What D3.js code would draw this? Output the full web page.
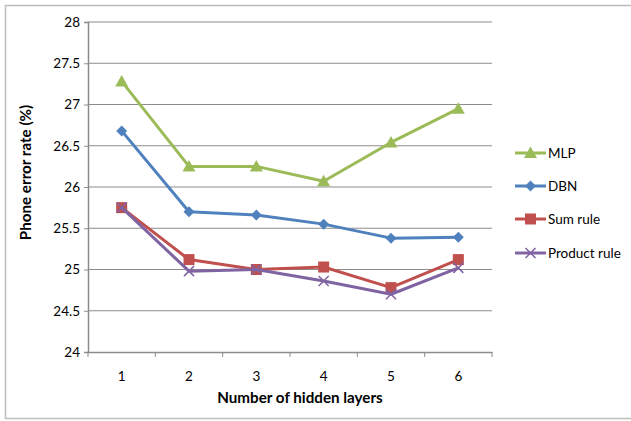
<!DOCTYPE html>
<html><head><meta charset="utf-8">
<script src="https://cdn.jsdelivr.net/npm/d3@7"></script>
<style>body{margin:0;background:#fff;}svg{display:block;font-family:Lato,"Open Sans",sans-serif;}</style>
</head><body>
<svg id="c" width="631" height="421"></svg>
<script>
const categories = ["1","2","3","4","5","6"];
const yTicks = [24, 24.5, 25, 25.5, 26, 26.5, 27, 27.5, 28];
const seriesNames = ["MLP","DBN","Sum rule","Product rule"];
const mlp = [27.28, 26.25, 26.25, 26.07, 26.54, 26.95];
const dbn = [26.68, 25.70, 25.66, 25.55, 25.38, 25.39];
const sumRule = [25.75, 25.12, 25.00, 25.03, 24.78, 25.12];
const productRule = [25.75, 24.98, 25.00, 24.86, 24.70, 25.02];

const colors = ["#9BBB59","#4F81BD","#C0504D","#8064A2"];
const markers = ["tri","dia","sq","x"];
const data = [mlp, dbn, sumRule, productRule];

const svg = d3.select("#c");
svg.append("rect").attr("x",5.5).attr("y",5.5).attr("width",640).attr("height",413)
  .attr("fill","#fff").attr("stroke","#bdbdbd").attr("stroke-width",1.5);

const x = d3.scaleBand().domain(categories).range([88,492]);
const y = d3.scaleLinear().domain([24,28]).range([352,22]);

const g = svg.append("g");
g.selectAll("line.grid").data(yTicks.slice(1)).enter().append("line")
  .attr("x1",88).attr("x2",492).attr("y1",d=>y(d)).attr("y2",d=>y(d))
  .attr("stroke","#8c8c8c").attr("stroke-width",1);

const ya = g.append("g").attr("transform","translate(88,0)")
  .call(d3.axisLeft(y).tickValues(yTicks).tickSize(4).tickPadding(4).tickFormat(d=>d3.format("")(d)));
ya.select(".domain").attr("stroke","#8c8c8c").attr("stroke-width",1.5);
ya.selectAll(".tick line").attr("stroke","#8c8c8c");
ya.selectAll("text").attr("font-size",13.5).attr("fill","#000").attr("font-family","Lato,'Open Sans',sans-serif");

const xa = g.append("g").attr("transform","translate(0,352)")
  .call(d3.axisBottom(x).tickSize(0).tickPadding(19));
xa.select(".domain").attr("stroke","#8c8c8c").attr("stroke-width",1.5);
xa.selectAll("text").attr("font-size",13.5).attr("fill","#000").attr("font-family","Lato,'Open Sans',sans-serif");
const bounds = categories.map(c=>x(c)).concat([x.range()[1]]);
g.selectAll("line.xt").data(bounds).enter().append("line")
  .attr("x1",d=>d).attr("x2",d=>d).attr("y1",352).attr("y2",357)
  .attr("stroke","#8c8c8c").attr("stroke-width",1);

const cx = c => x(c) + x.bandwidth()/2;

function marker(sel, type, color){
  if(type==="tri"){
    sel.append("path").attr("d",`M0,${-6.5}L${6.5},${5}L${-6.5},${5}Z`).attr("fill",color);
  } else if(type==="dia"){
    sel.append("path").attr("d",`M0,-5.5L5.5,0L0,5.5L-5.5,0Z`).attr("fill",color);
  } else if(type==="sq"){
    sel.append("rect").attr("x",-5.5).attr("y",-5.5).attr("width",11).attr("height",11).attr("fill",color);
  } else {
    sel.append("path").attr("d","M-5,-5L5,5M-5,5L5,-5").attr("stroke",color).attr("stroke-width",1.5).attr("fill","none");
  }
}

const line = d3.line().x((d,i)=>cx(categories[i])).y(d=>y(d));
data.forEach((vals,si)=>{
  g.append("path").datum(vals).attr("d",line).attr("fill","none")
    .attr("stroke",colors[si]).attr("stroke-width",3).attr("stroke-linejoin","round");
  vals.forEach((v,i)=>{
    const m = g.append("g").attr("transform",`translate(${cx(categories[i])},${y(v)})`);
    marker(m, markers[si], colors[si]);
  });
});

const ly = [153,186,219,253];
seriesNames.forEach((n,i)=>{
  const lg = svg.append("g").attr("transform",`translate(515,${ly[i]})`);
  lg.append("line").attr("x1",0).attr("x2",31).attr("stroke",colors[i]).attr("stroke-width",3);
  const m = lg.append("g").attr("transform","translate(15.5,0)");
  marker(m, markers[i], colors[i]);
  lg.append("text").attr("x",33).attr("y",5).attr("font-size",13.5).text(n);
});

svg.append("text").attr("x",300).attr("y",403).attr("text-anchor","middle")
  .attr("font-weight","bold").attr("font-size",15.2).text("Number of hidden layers");
svg.append("text").attr("transform","translate(31,172.5) rotate(-90)").attr("text-anchor","middle")
  .attr("font-weight","bold").attr("font-size",15.2).text("Phone error rate (%)");
</script>
</body></html>
